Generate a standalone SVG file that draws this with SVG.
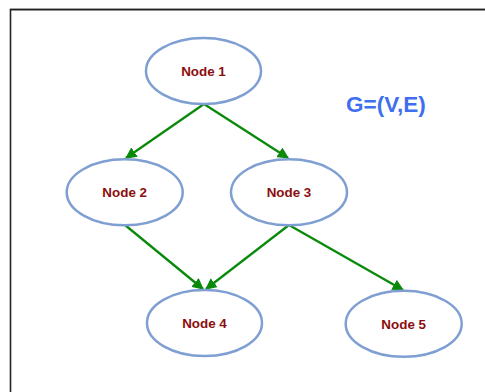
<svg xmlns="http://www.w3.org/2000/svg" width="485" height="392" viewBox="0 0 485 392">
  <style>
    .node ellipse { fill: #ffffff; stroke: #7f9fd3; stroke-width: 2.5; }
    .node text { font-family: "Liberation Sans", Arial, sans-serif; font-weight: bold; font-size: 13.4px; fill: #8b0e0e; text-anchor: middle; }
    .edge { stroke: #0a8a0a; stroke-width: 2.3; fill: none; marker-end: url(#arrow); }
    .title { font-family: "Liberation Sans", Arial, sans-serif; font-weight: bold; font-size: 22.5px; fill: #3f6ff0; }
  </style>
  <defs>
    <marker id="arrow" viewBox="0 0 10 10" refX="9" refY="5" markerWidth="5" markerHeight="5" orient="auto" markerUnits="strokeWidth">
      <path d="M0,0 L10,5 L0,10 z" fill="#0a8a0a"/>
    </marker>
  </defs>
  <rect width="485" height="392" fill="#ffffff"/>
  <!-- frame -->
  <line x1="10" y1="8.5" x2="485" y2="8.5" stroke="#cfcfcf" stroke-width="1"/>
  <path d="M10.5,392 V9.6 H485" fill="none" stroke="#222222" stroke-width="1.6"/>

  <g id="connectors">
    <line class="edge" x1="204" y1="104" x2="126" y2="158"/>
    <line class="edge" x1="204" y1="104" x2="288" y2="158"/>
    <line class="edge" x1="125" y1="225" x2="203" y2="289"/>
    <line class="edge" x1="289" y1="225" x2="206" y2="289"/>
    <line class="edge" x1="289" y1="225" x2="403" y2="290"/>
  </g>

  <g id="node1" class="node">
    <ellipse cx="203.5" cy="71" rx="57.5" ry="33"/>
    <text x="203.5" y="76">Node 1</text>
  </g>
  <g id="node2" class="node">
    <ellipse cx="124.7" cy="192.3" rx="58" ry="33"/>
    <text x="124.7" y="197.3">Node 2</text>
  </g>
  <g id="node3" class="node">
    <ellipse cx="289" cy="192.3" rx="58" ry="33"/>
    <text x="289" y="197.3">Node 3</text>
  </g>
  <g id="node4" class="node">
    <ellipse cx="204.5" cy="323" rx="57.5" ry="33"/>
    <text x="204.5" y="328">Node 4</text>
  </g>
  <g id="node5" class="node">
    <ellipse cx="403.7" cy="323.8" rx="58" ry="33"/>
    <text x="403.7" y="328.8">Node 5</text>
  </g>

  <text class="title" x="346" y="112">G=(V,E)</text>
</svg>
